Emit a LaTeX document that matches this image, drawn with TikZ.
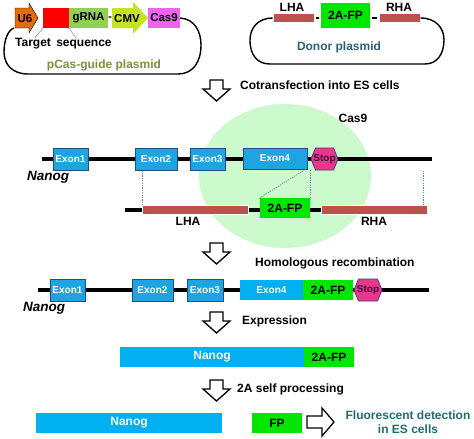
\documentclass[tikz,border=0pt]{standalone}
\usepackage{fontspec}
\setmainfont{Liberation Sans}
\usetikzlibrary{calc}
\definecolor{exonblue}{RGB}{30,165,225}
\definecolor{exonborder}{RGB}{31,78,130}
\definecolor{protblue}{RGB}{0,176,240}
\definecolor{fpgreen}{RGB}{0,230,0}
\definecolor{armred}{RGB}{192,80,77}
\definecolor{casfill}{RGB}{204,250,204}
\definecolor{uorange}{RGB}{228,108,10}
\definecolor{grnagreen}{RGB}{146,208,80}
\definecolor{cmvgreen}{RGB}{196,228,30}
\definecolor{casmag}{RGB}{240,100,240}
\definecolor{stopfill}{RGB}{232,56,140}
\definecolor{stopdraw}{RGB}{60,60,140}
\definecolor{olivetext}{RGB}{119,147,60}
\definecolor{donortext}{RGB}{49,95,120}
\definecolor{fluotext}{RGB}{30,110,110}
\definecolor{dotline}{RGB}{90,130,165}
\definecolor{tgtline}{RGB}{130,160,180}
\begin{document}
\begin{tikzpicture}[x=1pt,y=-1pt,
  lbl/.style={font=\bfseries\fontsize{12}{14}\selectfont, inner sep=0},
  sm/.style={font=\bfseries\fontsize{11.5}{13}\selectfont, inner sep=0},
  gname/.style={font=\bfseries\itshape\fontsize{13.5}{15}\selectfont, inner sep=0, anchor=west},
  exon/.style={draw=exonborder, fill=exonblue, line width=0.9, minimum height=22, inner sep=0, text=white, font=\bfseries\fontsize{10}{12}\selectfont},
  exonplain/.style={fill=protblue, minimum height=20, inner sep=0, text=white, font=\bfseries\fontsize{10}{12}\selectfont},
  arm/.style={fill=armred, draw=white, line width=0.6, minimum height=8.5, inner sep=0},
  fpbox/.style={fill=fpgreen, minimum height=20, inner sep=0, font=\bfseries\fontsize{12}{14}\selectfont},
  prot/.style={fill=protblue, minimum height=20, inner sep=0, text=white, font=\bfseries\fontsize{12}{14}\selectfont},
  gene/.style={line width=4.8},
  loopline/.style={line width=1.4},
  hollow/.style={draw=black, fill=white, line width=1.3, line join=miter},
  stopshape/.style={fill=stopfill, draw=stopdraw, line width=0.8},
  stoptext/.style={font=\bfseries\fontsize{10}{12}\selectfont, inner sep=0, text={rgb,255:red,60;green,0;blue,60}},
  dotted link/.style={draw=dotline, line width=0.7, dash pattern=on 1.2pt off 1.2pt},
  downarrow/.pic={\draw[hollow] (-6.5,0) -- (6.5,0) -- (6.5,9) -- (13.5,9) -- (0,21) -- (-13.5,9) -- (-6.5,9) -- cycle;},
  rightarrow/.pic={\draw[hollow] (0,-6) -- (15,-6) -- (15,-14) -- (27,0) -- (15,14) -- (15,6) -- (0,6) -- cycle;}
]
\useasboundingbox (0,0) rectangle (474,439);

% ---------- Cas9 cloud ----------
\fill[casfill] (285,176) ellipse [x radius=86, y radius=72];

% ---------- pCas-guide plasmid ----------
\draw[fill=uorange] (15,8) -- (29,8) -- (29,3) -- (38,18) -- (29,33) -- (29,28) -- (15,28) -- cycle;
\coordinate (u6loop) at (14,28);
\node[sm] (u6) at (25,18.5) {U6};
\node[fill=red, minimum width=26, minimum height=20, inner sep=0] (tgt) at (56,18) {};
\node[fill=grnagreen, minimum width=39, minimum height=20, inner sep=0, sm] (grna) at (88.5,18) {gRNA};
\fill[cmvgreen] (112,8) -- (133,8) -- (133,2) -- (148,18) -- (133,34) -- (133,28) -- (112,28) -- cycle;
\node[sm] (dash1) at (110,18.5) {-};
\node[sm] (cmv) at (127,18.5) {CMV};
\node[fill=casmag, minimum width=32, minimum height=20, inner sep=0, sm] (cas9box) at (164,18) {Cas9};
\node[lbl, anchor=west] (tseq) at (15,44) {Target\, sequence};
\draw[tgtline, line width=0.6] (tgt.south west) -- ([xshift=-29]tseq.north);
\draw[tgtline, line width=0.6] (tgt.south east) -- ([xshift=13]tseq.north);
\node[lbl, text=olivetext] (pcas) at (104,65) {pCas-guide plasmid};
\draw[loopline] (cas9box.east) .. controls (195,19) and (201,32) .. (201,45)
  .. controls (201,62) and (193,74) .. (178,74) -- (28,74)
  .. controls (12,74) and (4,64) .. (4,52)
  .. controls (4,40) and (8,30) .. (u6loop);

% ---------- Donor plasmid ----------
\node[arm, minimum width=41] (lha1) at (293.5,18) {};
\node[fpbox, minimum width=49, minimum height=25] (fp1) at (345.5,15.5) {2A-FP};
\node[arm, minimum width=41] (rha1) at (399.5,18) {};
\node[lbl] (lha1t) at (292,7) {LHA};
\node[lbl] (rha1t) at (399,7) {RHA};
\draw[loopline] ([xshift=2]lha1.east) -- ([xshift=-2]fp1.west |- lha1.east);
\draw[loopline] ([xshift=2]fp1.east |- rha1.west) -- ([xshift=-2]rha1.west);
\draw[loopline] (lha1.west) .. controls (258,18) and (250,28) .. (250,40)
  .. controls (250,56) and (258,64) .. (270,64) -- (425,64)
  .. controls (437,64) and (444,54) .. (444,40)
  .. controls (444,28) and (436,18) .. (rha1.east);
\node[lbl, text=donortext] (donor) at (339,47) {Donor plasmid};

% ---------- step 1 ----------
\pic at (216.5,80) {downarrow};
\node[lbl, anchor=west] (cotr) at (240,85) {Cotransfection into ES cells};
\node[lbl] (cas9lbl) at (353,118) {Cas9};

% ---------- Nanog locus ----------
\coordinate (l1s) at (42,159);
\coordinate (l1e) at (432,159);
\draw[gene] (l1s) -- (l1e);
\node[exon, minimum width=35] (e1a) at (70.5,159) {Exon1};
\node[exon, minimum width=42] (e2a) at (156,159) {Exon2};
\node[exon, minimum width=35] (e3a) at (207.5,159) {Exon3};
\node[exon, minimum width=64, minimum height=21] (e4a) at (275,158.5) {Exon4};
\coordinate (s1) at (324.5,159);
\draw[stopshape] ([xshift=-13.5]s1) -- ++(4.5,-11) -- ++(18,0) -- ++(4.5,11) -- ++(-4.5,11) -- ++(-18,0) -- cycle;
\node[stoptext] (stop1) at (s1) {Stop};
\node[gname] (nanog1) at (27,177) {Nanog};

% ---------- donor aligned ----------
\coordinate (l2s) at (125,210);
\coordinate (l2e) at (321,210);
\draw[gene] (l2s) -- (l2e);
\node[arm, minimum width=106] (lha2) at (195,210) {};
\node[fpbox, minimum width=50] (fp2) at (285,208) {2A-FP};
\node[arm, minimum width=106] (rha2) at (374,210) {};
\node[lbl] (lha2t) at (188,221) {LHA};
\node[lbl] (rha2t) at (374,221) {RHA};
\draw[dotted link] ([xshift=0.5]lha2.north west) -- ([xshift=0.5]lha2.north west |- e2a.south);
\draw[dotted link] ([xshift=-2]e4a.south east) -- (fp2.north west);
\draw[dotted link] (fp2.north east) -- (fp2.north east |- e4a.south);
\draw[dotted link] ([xshift=-4]rha2.north east) -- ([xshift=-4]rha2.north east |- e4a.south);

% ---------- step 2 ----------
\pic at (216.5,243) {downarrow};
\node[lbl, anchor=west] (homrec) at (255,263) {Homologous recombination};

% ---------- recombined locus ----------
\coordinate (l3s) at (38,290);
\coordinate (l3e) at (429,290);
\draw[gene] (l3s) -- (l3e);
\node[exon, minimum width=35] (e1b) at (67.5,290) {Exon1};
\node[exon, minimum width=41] (e2b) at (152.5,290) {Exon2};
\node[exon, minimum width=36] (e3b) at (205,290) {Exon3};
\node[exonplain, minimum width=63] (e4b) at (271.5,290) {Exon4};
\node[fpbox, minimum width=50] (fp3) at (328,290) {2A-FP};
\coordinate (s2) at (368,290);
\draw[stopshape] ([xshift=-14]s2) -- ++(4.5,-11) -- ++(19,0) -- ++(4.5,11) -- ++(-4.5,11) -- ++(-19,0) -- cycle;
\node[stoptext] (stop2) at (s2) {Stop};
\node[gname] (nanog2) at (23,308) {Nanog};

% ---------- step 3 ----------
\pic at (216.5,312) {downarrow};
\node[lbl, anchor=west] (expr) at (242,321) {Expression};

\node[prot, minimum width=184] (prot1) at (212,357) {Nanog};
\node[fpbox, minimum width=50] (fp4) at (329,357) {2A-FP};

% ---------- step 4 ----------
\pic at (216.5,380) {downarrow};
\node[lbl, anchor=west] (selfp) at (237,389) {2A self processing};

\node[prot, minimum width=186] (prot2) at (129,423) {Nanog};
\node[fpbox, minimum width=50] (fp5) at (277,423) {FP};
\pic at (307,422) {rightarrow};
\node[lbl, text=fluotext, align=center, font=\bfseries\fontsize{12}{14}\selectfont] (fluo) at (408,422) {Fluorescent detection\\in ES cells};
\end{tikzpicture}
\end{document}
